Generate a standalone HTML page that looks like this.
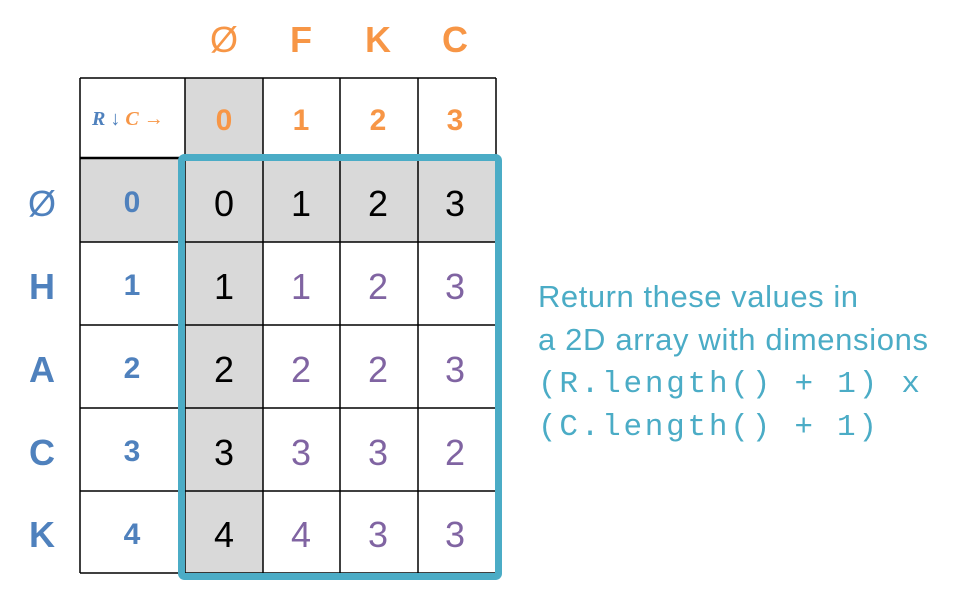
<!DOCTYPE html>
<html><head><style>body{margin:0;background:#fff}</style></head><body>
<svg width="961" height="598" xmlns="http://www.w3.org/2000/svg" font-family="Liberation Sans, DejaVu Sans, sans-serif">
<rect x="185" y="78" width="78" height="496" fill="#d9d9d9"/>
<rect x="80" y="158" width="416" height="84" fill="#d9d9d9"/>
<g stroke="#000" stroke-width="1.5">
<line x1="80" y1="78" x2="496" y2="78"/>
<line x1="80" y1="158" x2="496" y2="158" stroke-width="2.5"/>
<line x1="80" y1="242" x2="496" y2="242"/>
<line x1="80" y1="325" x2="496" y2="325"/>
<line x1="80" y1="408" x2="496" y2="408"/>
<line x1="80" y1="491" x2="496" y2="491"/>
<line x1="80" y1="573" x2="496" y2="573"/>
<line x1="80" y1="78" x2="80" y2="573"/>
<line x1="185" y1="78" x2="185" y2="573"/>
<line x1="263" y1="78" x2="263" y2="573"/>
<line x1="340" y1="78" x2="340" y2="573"/>
<line x1="418" y1="78" x2="418" y2="573"/>
<line x1="496" y1="78" x2="496" y2="573"/>
</g>
<rect x="181.5" y="157.5" width="317" height="419" rx="3" fill="none" stroke="#4bacc6" stroke-width="7"/>
<g fill="#f79646" font-size="36" font-weight="bold" text-anchor="middle">
<text x="224" y="52" font-weight="normal">Ø</text><text x="301" y="52">F</text><text x="378" y="52">K</text><text x="455" y="52">C</text>
</g>
<g fill="#f79646" font-size="30" font-weight="bold" text-anchor="middle">
<text x="224" y="130">0</text><text x="301" y="130">1</text><text x="378" y="130">2</text><text x="455" y="130">3</text>
</g>
<text x="92" y="125" font-size="20" style="font-family:'Liberation Serif',serif" font-style="italic" font-weight="bold" fill="#4f81bd">R <tspan font-style="normal" font-weight="normal">↓</tspan> <tspan fill="#f79646">C</tspan> <tspan fill="#f79646" font-style="normal" font-weight="normal">→</tspan></text>
<g fill="#4f81bd" font-size="36" font-weight="bold" text-anchor="middle">
<text x="42" y="216" font-weight="normal">Ø</text><text x="42" y="299">H</text><text x="42" y="382">A</text><text x="42" y="465">C</text><text x="42" y="547">K</text>
</g>
<g fill="#4f81bd" font-size="30" font-weight="bold" text-anchor="middle">
<text x="132" y="212">0</text><text x="132" y="295">1</text><text x="132" y="378">2</text><text x="132" y="461">3</text><text x="132" y="544">4</text>
</g>
<g font-size="36" text-anchor="middle">
<g fill="#000"><text x="224" y="216">0</text><text x="301" y="216">1</text><text x="378" y="216">2</text><text x="455" y="216">3</text>
<text x="224" y="299">1</text><text x="224" y="382">2</text><text x="224" y="465">3</text><text x="224" y="547">4</text></g>
<g fill="#8064a2"><text x="301" y="299">1</text><text x="378" y="299">2</text><text x="455" y="299">3</text>
<text x="301" y="382">2</text><text x="378" y="382">2</text><text x="455" y="382">3</text>
<text x="301" y="465">3</text><text x="378" y="465">3</text><text x="455" y="465">2</text>
<text x="301" y="547">4</text><text x="378" y="547">3</text><text x="455" y="547">3</text></g>
</g>
<g fill="#4bacc6" font-size="31">
<text x="538" y="307" textLength="320">Return these values in</text>
<text x="538" y="350" textLength="390">a 2D array with dimensions</text>
<text x="538" y="392" style="font-family:'Liberation Mono',monospace" font-size="31" textLength="382">(R.length() + 1) x</text>
<text x="538" y="435" style="font-family:'Liberation Mono',monospace" font-size="31" textLength="339">(C.length() + 1)</text>
</g>
</svg>
</body></html>
